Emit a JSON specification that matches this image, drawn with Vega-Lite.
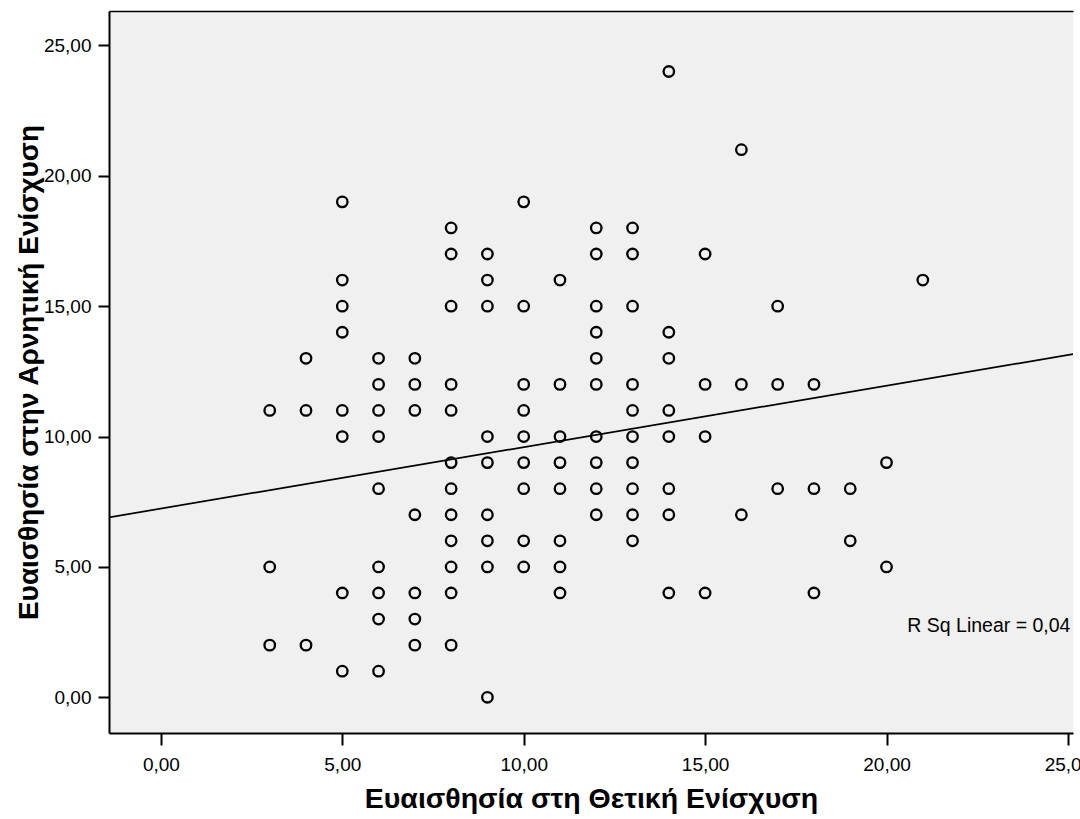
{
  "$schema": "https://vega.github.io/schema/vega-lite/v6.json",
  "width": 964,
  "height": 722,
  "autosize": "none",
  "padding": {"left": 109, "top": 11, "right": 7, "bottom": 86},
  "background": "white",
  "config": {
    "view": {"fill": "#f0f0f0", "stroke": null},
    "font": "Liberation Sans",
    "axis": {"grid": false, "domainColor": "black", "tickColor": "black", "labelColor": "black", "titleColor": "black", "labelFont": "Liberation Sans", "titleFont": "Liberation Sans"}
  },
  "datasets": {
    "pts": [
      {"pos": 3, "neg": 11}, {"pos": 3, "neg": 5}, {"pos": 3, "neg": 2},
      {"pos": 4, "neg": 13}, {"pos": 4, "neg": 11}, {"pos": 4, "neg": 2},
      {"pos": 5, "neg": 19}, {"pos": 5, "neg": 16}, {"pos": 5, "neg": 15}, {"pos": 5, "neg": 14}, {"pos": 5, "neg": 11}, {"pos": 5, "neg": 10}, {"pos": 5, "neg": 4}, {"pos": 5, "neg": 1},
      {"pos": 6, "neg": 13}, {"pos": 6, "neg": 12}, {"pos": 6, "neg": 11}, {"pos": 6, "neg": 10}, {"pos": 6, "neg": 8}, {"pos": 6, "neg": 5}, {"pos": 6, "neg": 4}, {"pos": 6, "neg": 3}, {"pos": 6, "neg": 1},
      {"pos": 7, "neg": 13}, {"pos": 7, "neg": 12}, {"pos": 7, "neg": 11}, {"pos": 7, "neg": 7}, {"pos": 7, "neg": 4}, {"pos": 7, "neg": 3}, {"pos": 7, "neg": 2},
      {"pos": 8, "neg": 18}, {"pos": 8, "neg": 17}, {"pos": 8, "neg": 15}, {"pos": 8, "neg": 12}, {"pos": 8, "neg": 11}, {"pos": 8, "neg": 9}, {"pos": 8, "neg": 8}, {"pos": 8, "neg": 7}, {"pos": 8, "neg": 6}, {"pos": 8, "neg": 5}, {"pos": 8, "neg": 4}, {"pos": 8, "neg": 2},
      {"pos": 9, "neg": 17}, {"pos": 9, "neg": 16}, {"pos": 9, "neg": 15}, {"pos": 9, "neg": 10}, {"pos": 9, "neg": 9}, {"pos": 9, "neg": 7}, {"pos": 9, "neg": 6}, {"pos": 9, "neg": 5}, {"pos": 9, "neg": 0},
      {"pos": 10, "neg": 19}, {"pos": 10, "neg": 15}, {"pos": 10, "neg": 12}, {"pos": 10, "neg": 11}, {"pos": 10, "neg": 10}, {"pos": 10, "neg": 9}, {"pos": 10, "neg": 8}, {"pos": 10, "neg": 6}, {"pos": 10, "neg": 5},
      {"pos": 11, "neg": 16}, {"pos": 11, "neg": 12}, {"pos": 11, "neg": 10}, {"pos": 11, "neg": 9}, {"pos": 11, "neg": 8}, {"pos": 11, "neg": 6}, {"pos": 11, "neg": 5}, {"pos": 11, "neg": 4},
      {"pos": 12, "neg": 18}, {"pos": 12, "neg": 17}, {"pos": 12, "neg": 15}, {"pos": 12, "neg": 14}, {"pos": 12, "neg": 13}, {"pos": 12, "neg": 12}, {"pos": 12, "neg": 10}, {"pos": 12, "neg": 9}, {"pos": 12, "neg": 8}, {"pos": 12, "neg": 7},
      {"pos": 13, "neg": 18}, {"pos": 13, "neg": 17}, {"pos": 13, "neg": 15}, {"pos": 13, "neg": 12}, {"pos": 13, "neg": 11}, {"pos": 13, "neg": 10}, {"pos": 13, "neg": 9}, {"pos": 13, "neg": 8}, {"pos": 13, "neg": 7}, {"pos": 13, "neg": 6},
      {"pos": 14, "neg": 24}, {"pos": 14, "neg": 14}, {"pos": 14, "neg": 13}, {"pos": 14, "neg": 11}, {"pos": 14, "neg": 10}, {"pos": 14, "neg": 8}, {"pos": 14, "neg": 7}, {"pos": 14, "neg": 4},
      {"pos": 15, "neg": 17}, {"pos": 15, "neg": 12}, {"pos": 15, "neg": 10}, {"pos": 15, "neg": 4},
      {"pos": 16, "neg": 21}, {"pos": 16, "neg": 12}, {"pos": 16, "neg": 7},
      {"pos": 17, "neg": 15}, {"pos": 17, "neg": 12}, {"pos": 17, "neg": 8},
      {"pos": 18, "neg": 12}, {"pos": 18, "neg": 8}, {"pos": 18, "neg": 4},
      {"pos": 19, "neg": 8}, {"pos": 19, "neg": 6},
      {"pos": 20, "neg": 9}, {"pos": 20, "neg": 5},
      {"pos": 21, "neg": 16}
    ],
    "fit": [
      {"pos": -1.43, "neg": 6.9},
      {"pos": 25.14, "neg": 13.16}
    ]
  },
  "resolve": {"axis": {"x": "independent"}},
  "layer": [
    {
      "data": {"name": "pts"},
      "mark": {"type": "point", "shape": "circle", "filled": false, "stroke": "black", "strokeWidth": 2.3, "size": 110, "opacity": 1},
      "encoding": {
        "x": {
          "field": "pos", "type": "quantitative",
          "scale": {"domain": [-1.43, 25.14], "nice": false, "zero": false},
          "axis": {
            "orient": "bottom",
            "values": [0, 5, 10, 15, 20, 25],
            "labelExpr": "replace(format(datum.value, '.2f'), '.', ',')",
            "domainWidth": 2, "tickWidth": 2, "tickSize": 12,
            "labelFontSize": 19, "labelPadding": 10,
            "title": "Ευαισθησία στη Θετική Ενίσχυση",
            "titleFontSize": 28.5, "titleFontWeight": "bold", "titlePadding": 10
          }
        },
        "y": {
          "field": "neg", "type": "quantitative",
          "scale": {"domain": [-1.37, 26.32], "nice": false, "zero": false},
          "axis": {
            "values": [0, 5, 10, 15, 20, 25],
            "labelExpr": "replace(format(datum.value, '.2f'), '.', ',')",
            "domainWidth": 2, "tickWidth": 2, "tickSize": 11,
            "labelFontSize": 19, "labelPadding": 7,
            "title": "Ευαισθησία στην Αρνητική Ενίσχυση",
            "titleFontSize": 28, "titleFontWeight": "bold", "titlePadding": 0
          }
        }
      }
    },
    {
      "data": {"name": "fit"},
      "mark": {"type": "line", "color": "black", "strokeWidth": 1.7, "clip": true},
      "encoding": {
        "x": {
          "field": "pos", "type": "quantitative",
          "axis": {"orient": "top", "labels": false, "ticks": false, "domain": true, "domainWidth": 1.5, "title": null}
        },
        "y": {"field": "neg", "type": "quantitative"}
      }
    },
    {
      "data": {"values": [{"label": "R Sq Linear = 0,04"}]},
      "mark": {"type": "text", "align": "right", "baseline": "alphabetic", "fontSize": 19.5, "color": "black", "font": "Liberation Sans"},
      "encoding": {
        "x": {"datum": 25.07, "type": "quantitative", "axis": null},
        "y": {"datum": 2.51, "type": "quantitative"},
        "text": {"field": "label"}
      }
    }
  ]
}
